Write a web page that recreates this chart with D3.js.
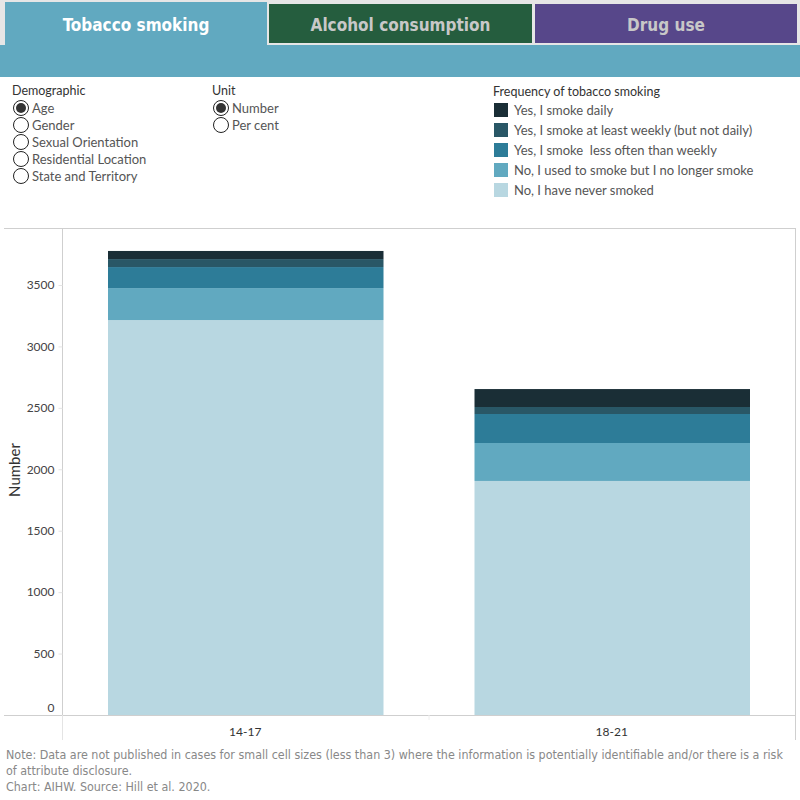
<!DOCTYPE html>
<html>
<head>
<meta charset="utf-8">
<script src="https://cdn.jsdelivr.net/npm/d3@7"></script>
<style>
body { margin: 0; background: #fff; }
svg text { font-family: Lato, "Open Sans", sans-serif; white-space: pre; }
</style>
</head>
<body>
<script>
// data
var ageGroups = ["14-17", "18-21"];
var smokingKeys = ["never", "used", "lessWeekly", "weekly", "daily"];
var smokingLabels = [
  "Yes, I smoke daily",
  "Yes, I smoke at least weekly (but not daily)",
  "Yes, I smoke  less often than weekly",
  "No, I used to smoke but I no longer smoke",
  "No, I have never smoked"
];
var neverSmoked = [3215, 1905];
var usedToSmoke = [260, 309];
var lessThanWeekly = [171, 236];
var atLeastWeekly = [65, 57];
var daily = [66, 146];
var yTicks = [0, 500, 1000, 1500, 2000, 2500, 3000, 3500];
var demographics = ["Age", "Gender", "Sexual Orientation", "Residential Location", "State and Territory"];
var units = ["Number", "Per cent"];
var tabs = ["Tobacco smoking", "Alcohol consumption", "Drug use"];

var colours = ["#1a2e36", "#295766", "#2d7c98", "#61a9c0", "#b8d7e1"]; // daily -> never

var rows = ageGroups.map((g, i) => ({
  group: g,
  never: neverSmoked[i],
  used: usedToSmoke[i],
  lessWeekly: lessThanWeekly[i],
  weekly: atLeastWeekly[i],
  daily: daily[i]
}));

var W = 800, H = 800;
var svg = d3.select("body").append("svg")
  .attr("width", W)
  .attr("height", H);

// tabs
svg.append("rect").attr("x", 0).attr("y", 0).attr("width", W).attr("height", 46).attr("fill", "#e6e6e6");
var tabFill = ["#61a9c0", "#255d3e", "#57478a"];
var tabX = [5, 269, 535];
var tabW = [262, 263, 262];
tabs.forEach((t, i) => {
  var top = i == 0 ? 2 : 4;
  svg.append("rect")
    .attr("x", tabX[i]).attr("y", top)
    .attr("width", tabW[i]).attr("height", i == 0 ? 44 : 39)
    .attr("fill", tabFill[i]);
  svg.append("text")
    .attr("x", tabX[i] + tabW[i] / 2).attr("y", 31)
    .attr("text-anchor", "middle")
    .style("font-family", "'DejaVu Sans Condensed', 'Liberation Sans Narrow', sans-serif")
    .style("font-weight", "bold")
    .style("font-size", "17px")
    .attr("fill", i == 0 ? "#ffffff" : "#c8c8c8")
    .text(t);
});
svg.append("rect").attr("x", 0).attr("y", 45).attr("width", W).attr("height", 32).attr("fill", "#61a9c0");

// radio groups
function radios(x, title, items, sel) {
  svg.append("text").attr("x", x).attr("y", 95)
    .style("font-size", "12.5px").attr("fill", "#333").text(title);
  items.forEach((d, i) => {
    var cy = 108 + i * 17;
    svg.append("circle").attr("cx", x + 9).attr("cy", cy).attr("r", 7.5)
      .attr("fill", "#fff").attr("stroke", "#222").attr("stroke-width", 1);
    if (i == sel) svg.append("circle").attr("cx", x + 9).attr("cy", cy).attr("r", 5).attr("fill", "#333");
    svg.append("text").attr("x", x + 20).attr("y", cy + 4.5)
      .style("font-size", "13px").attr("fill", "#555").text(d);
  });
}
radios(12, "Demographic", demographics, 0);
radios(212, "Unit", units, 0);

// legend
svg.append("text").attr("x", 493).attr("y", 96)
  .style("font-size", "12.5px").attr("fill", "#333").text("Frequency of tobacco smoking");
var legend = svg.append("g").selectAll("g")
  .data(smokingLabels)
  .join("g")
  .attr("transform", (d, i) => `translate(494,${103 + i * 20})`);
legend.append("rect").attr("width", 14).attr("height", 14).attr("fill", (d, i) => colours[i]);
legend.append("text").attr("x", 20).attr("y", 11.5)
  .style("font-size", "13px").attr("fill", "#555").text(d => d);

// chart
var x0 = 62, x1 = 795, yTop = 228, yBase = 715;
var x = d3.scaleBand().domain(ageGroups).range([x0, x1]).paddingInner(0).paddingOuter(0);
var y = d3.scaleLinear().domain([0, 3500]).range([yBase, 285]);

svg.append("line").attr("x1", 4).attr("x2", x1 + 0.5).attr("y1", yTop + 0.5).attr("y2", yTop + 0.5)
  .attr("stroke", "#cfcfcf");
svg.append("line").attr("x1", x1 + 0.5).attr("x2", x1 + 0.5).attr("y1", yTop).attr("y2", 740)
  .attr("stroke", "#cfcfcf");

var stack = d3.stack().keys(smokingKeys)(rows);
svg.append("g").selectAll("g")
  .data(stack)
  .join("g")
  .attr("fill", (d, i) => colours[4 - i])
  .selectAll("rect")
  .data(d => d)
  .join("rect")
  .attr("x", d => x(d.data.group) + 46)
  .attr("width", x.bandwidth() - 91)
  .attr("y", d => y(d[1]))
  .attr("height", d => y(d[0]) - y(d[1]));

// y axis
var yAxis = svg.append("g")
  .attr("transform", `translate(${x0 + 0.5},0)`)
  .call(d3.axisLeft(y).tickValues(yTicks).tickSize(4).tickPadding(4).tickFormat(d3.format("d")));
yAxis.select(".domain").attr("stroke", "#cfcfcf").attr("d", `M0,${yTop}V${yBase}`);
yAxis.selectAll(".tick line").attr("stroke", "#e4e4e4");
yAxis.selectAll(".tick text").style("font-size", "12px").attr("fill", "#444")
  .attr("dy", d => d == 0 ? "-0.3em" : "0.32em");

svg.append("text")
  .attr("transform", "translate(20,470) rotate(-90)")
  .attr("text-anchor", "middle")
  .style("font-size", "15px").attr("fill", "#333")
  .text("Number");

// x axis
var xAxis = svg.append("g")
  .attr("transform", `translate(0,${yBase + 0.5})`)
  .call(d3.axisBottom(x).tickSize(0).tickPadding(12));
xAxis.select(".domain").attr("stroke", "#cfcfcf").attr("d", `M4,0H${x1}`);
xAxis.selectAll(".tick text").style("font-size", "12px").attr("fill", "#333");
svg.append("line").attr("x1", x0 + 0.5).attr("x2", x0 + 0.5).attr("y1", yBase).attr("y2", 740).attr("stroke", "#e4e4e4");
svg.append("line").attr("x1", x("18-21") + 0.5).attr("x2", x("18-21") + 0.5).attr("y1", yBase).attr("y2", 720).attr("stroke", "#eeeeee");

// footer
var notes = [
  "Note: Data are not published in cases for small cell sizes (less than 3) where the information is potentially identifiable and/or there is a risk",
  "of attribute disclosure.",
  "Chart: AIHW. Source: Hill et al. 2020."
];
svg.append("g").selectAll("text")
  .data(notes)
  .join("text")
  .attr("x", 6)
  .attr("y", (d, i) => 759 + i * 16)
  .style("font-family", "'DejaVu Sans Condensed', 'Liberation Sans Narrow', sans-serif")
  .style("font-size", "12.4px")
  .attr("fill", "#888")
  .text(d => d);
</script>
</body>
</html>
